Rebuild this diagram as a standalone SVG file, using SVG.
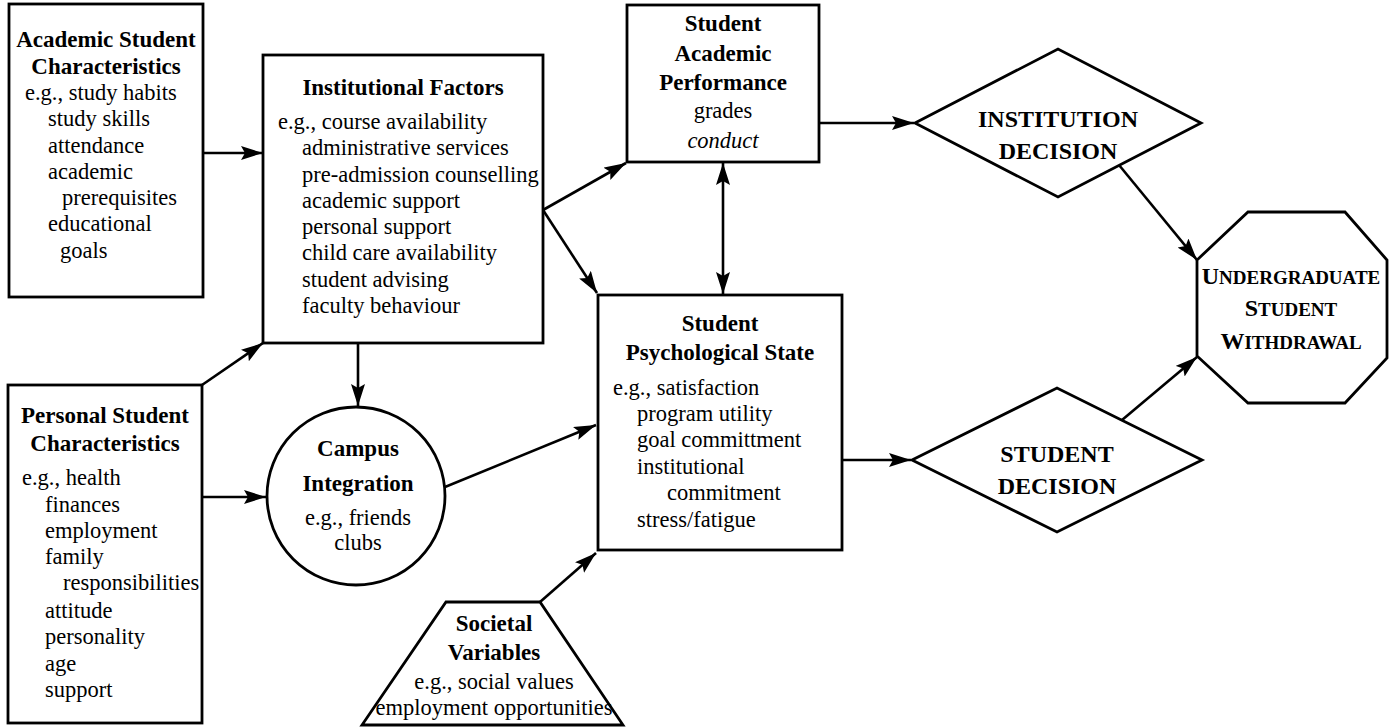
<svg xmlns="http://www.w3.org/2000/svg" width="1389" height="728" viewBox="0 0 1389 728">
<style>
.shape{fill:#fff;stroke:#000;stroke-width:2.8}
.t{font-family:"Liberation Serif","Times New Roman",serif;font-size:22.5px;fill:#000}
.b{font-weight:bold;font-size:23px}
.c{text-anchor:middle}
.i{font-style:italic}
.sc{font-family:"Liberation Serif","Times New Roman",serif;font-weight:bold;font-size:24px;text-anchor:middle;fill:#000}
.sm{font-size:19px}
.con line{stroke:#000;stroke-width:2.6;fill:none}
</style>
<defs>
<marker id="ah" markerUnits="userSpaceOnUse" markerWidth="24" markerHeight="16" refX="22" refY="7" orient="auto-start-reverse" viewBox="0 0 24 16">
<path d="M0,0 L22,7 L0,14 L4,7 z" fill="#000"/>
</marker>
</defs>
<rect width="1389" height="728" fill="#fff"/>

<g class="con">
<line x1="203" y1="153" x2="263" y2="153" marker-end="url(#ah)"/>
<line x1="202" y1="385" x2="263" y2="343" marker-end="url(#ah)"/>
<line x1="202" y1="497" x2="266" y2="497" marker-end="url(#ah)"/>
<line x1="358" y1="343" x2="358" y2="406" marker-end="url(#ah)"/>
<line x1="543" y1="210" x2="626" y2="163" marker-end="url(#ah)"/>
<line x1="543" y1="210" x2="597" y2="293" marker-end="url(#ah)"/>
<line x1="445" y1="487" x2="596" y2="425" marker-end="url(#ah)"/>
<line x1="540" y1="602" x2="596" y2="553" marker-end="url(#ah)"/>
<line x1="723" y1="163" x2="723" y2="294" marker-start="url(#ah)" marker-end="url(#ah)"/>
<line x1="819" y1="123" x2="914" y2="123" marker-end="url(#ah)"/>
<line x1="842" y1="460" x2="911" y2="460" marker-end="url(#ah)"/>
<line x1="1119" y1="165" x2="1197" y2="260" marker-end="url(#ah)"/>
<line x1="1122" y1="420" x2="1197" y2="357" marker-end="url(#ah)"/>
</g>

<g id="academic">
<rect class="shape" x="9" y="4" width="194" height="293"/>
<text class="t b c" x="106" y="47">Academic Student</text>
<text class="t b c" x="106" y="74">Characteristics</text>
<text class="t" x="25" y="100">e.g., study habits</text>
<text class="t" x="48" y="126">study skills</text>
<text class="t" x="48" y="153">attendance</text>
<text class="t" x="48" y="179">academic</text>
<text class="t" x="62" y="205">prerequisites</text>
<text class="t" x="48" y="231">educational</text>
<text class="t" x="60" y="258">goals</text>
</g>

<g id="institutional">
<rect class="shape" x="263" y="55" width="280" height="288"/>
<text class="t b c" x="403" y="95">Institutional Factors</text>
<text class="t" x="278" y="129">e.g., course availability</text>
<text class="t" x="302" y="155">administrative services</text>
<text class="t" x="302" y="182">pre-admission counselling</text>
<text class="t" x="302" y="208">academic support</text>
<text class="t" x="302" y="234">personal support</text>
<text class="t" x="302" y="260">child care availability</text>
<text class="t" x="302" y="287">student advising</text>
<text class="t" x="302" y="313">faculty behaviour</text>
</g>

<g id="performance">
<rect class="shape" x="627" y="5" width="192" height="157"/>
<text class="t b c" x="723" y="31">Student</text>
<text class="t b c" x="723" y="61">Academic</text>
<text class="t b c" x="723" y="90">Performance</text>
<text class="t c" x="723" y="118">grades</text>
<text class="t c i" x="723" y="148">conduct</text>
</g>

<g id="psychological">
<rect class="shape" x="598" y="295" width="244" height="255"/>
<text class="t b c" x="720" y="331">Student</text>
<text class="t b c" x="720" y="360">Psychological State</text>
<text class="t" x="613" y="395">e.g., satisfaction</text>
<text class="t" x="637" y="421">program utility</text>
<text class="t" x="637" y="447">goal committment</text>
<text class="t" x="637" y="474">institutional</text>
<text class="t" x="667" y="500">commitment</text>
<text class="t" x="637" y="527">stress/fatigue</text>
</g>

<g id="campus">
<circle class="shape" cx="356" cy="496" r="89"/>
<text class="t b c" x="358" y="456">Campus</text>
<text class="t b c" x="358" y="491">Integration</text>
<text class="t c" x="358" y="525">e.g., friends</text>
<text class="t c" x="358" y="550">clubs</text>
</g>

<g id="personal">
<rect class="shape" x="8" y="385" width="194" height="338"/>
<text class="t b c" x="105" y="423">Personal Student</text>
<text class="t b c" x="105" y="451">Characteristics</text>
<text class="t" x="22" y="485">e.g., health</text>
<text class="t" x="45" y="512">finances</text>
<text class="t" x="45" y="538">employment</text>
<text class="t" x="45" y="564">family</text>
<text class="t" x="63" y="590">responsibilities</text>
<text class="t" x="45" y="618">attitude</text>
<text class="t" x="45" y="644">personality</text>
<text class="t" x="45" y="671">age</text>
<text class="t" x="45" y="697">support</text>
</g>

<g id="societal">
<polygon class="shape" points="446,602 540,602 623,725 362,725"/>
<text class="t b c" x="494" y="631">Societal</text>
<text class="t b c" x="494" y="660">Variables</text>
<text class="t c" x="494" y="689">e.g., social values</text>
<text class="t c" x="494" y="715">employment opportunities</text>
</g>

<g id="institution-decision">
<polygon class="shape" points="915,123 1058,49 1201,123 1058,197"/>
<text class="t b c" x="1058" y="127" style="font-size:24px">INSTITUTION</text>
<text class="t b c" x="1058" y="159" style="font-size:24px">DECISION</text>
</g>

<g id="student-decision">
<polygon class="shape" points="912,460 1057,388 1202,460 1057,532"/>
<text class="t b c" x="1057" y="462" style="font-size:24px">STUDENT</text>
<text class="t b c" x="1057" y="494" style="font-size:24px">DECISION</text>
</g>

<g id="withdrawal">
<polygon class="shape" points="1248,212 1345,212 1387,260 1387,358 1345,403 1248,403 1197,356 1197,260"/>
<text class="sc" x="1291" y="284">U<tspan class="sm">NDERGRADUATE</tspan></text>
<text class="sc" x="1291" y="316">S<tspan class="sm">TUDENT</tspan></text>
<text class="sc" x="1291" y="349">W<tspan class="sm">ITHDRAWAL</tspan></text>
</g>
</svg>
